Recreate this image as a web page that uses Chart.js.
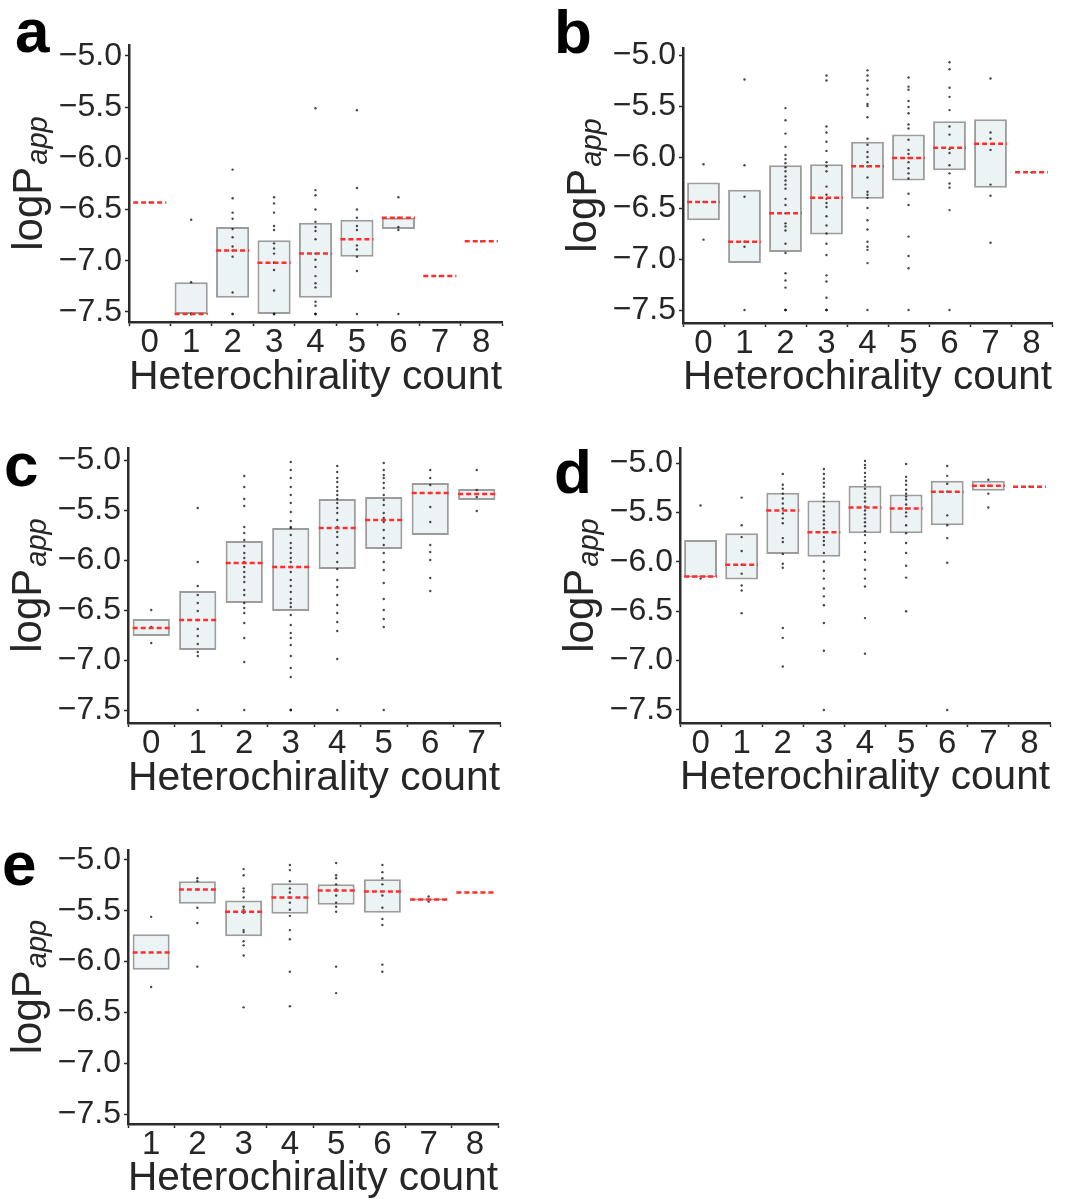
<!DOCTYPE html>
<html>
<head>
<meta charset="utf-8">
<script src="https://cdn.jsdelivr.net/npm/chart.js@4.4.1/dist/chart.umd.min.js"></script>
<style>
  body { margin: 0; background: #fff; }
  canvas { position: absolute; }
</style>
</head>
<body>
<canvas id="pa" width="536" height="405" style="left:0;top:0"></canvas>
<canvas id="pb" width="537" height="405" style="left:536px;top:0"></canvas>
<canvas id="pc" width="536" height="405" style="left:0;top:405px"></canvas>
<canvas id="pd" width="537" height="405" style="left:536px;top:405px"></canvas>
<canvas id="pe" width="536" height="393" style="left:0;top:810px"></canvas>
<script>
// shared axis ticks
const yTicks = [-7.5, -7.0, -6.5, -6.0, -5.5, -5.0];
const yTickLabels = ['\u22127.5', '\u22127.0', '\u22126.5', '\u22126.0', '\u22125.5', '\u22125.0'];

// panel a
const catsA = ['0', '1', '2', '3', '4', '5', '6', '7', '8'];
const q1A = [null, -7.52, -7.36, -7.52, -7.36, -6.96, -6.69, null, null];
const q3A = [null, -7.21, -6.67, -6.80, -6.63, -6.60, -6.58, null, null];
const medA = [-6.43, -7.52, -6.90, -7.02, -6.93, -6.79, -6.58, -7.15, -6.81];
const ptsA = [
  [-6.43],
  [-6.60, -7.21, -7.52, -7.52, -7.52],
  [-6.11, -6.39, -6.53, -6.59, -6.69, -6.77, -6.86, -6.90, -6.96, -7.31, -7.52, -7.52],
  [-6.38, -6.44, -6.53, -6.66, -6.70, -6.83, -6.88, -6.93, -7.02, -7.02, -7.09, -7.29, -7.52, -7.52, -7.52],
  [-5.51, -6.31, -6.36, -6.50, -6.62, -6.67, -6.71, -6.79, -6.93, -6.99, -7.06, -7.15, -7.22, -7.26, -7.40, -7.44, -7.52, -7.52, -7.52],
  [-5.53, -6.29, -6.50, -6.58, -6.66, -6.70, -6.85, -6.89, -6.96, -7.10, -7.52],
  [-6.38, -6.58, -6.67, -6.70, -7.52],
  [-7.15],
  [-6.81]
];

// panel b
const catsB = ['0', '1', '2', '3', '4', '5', '6', '7', '8'];
const q1B = [-6.62, -7.04, -6.93, -6.76, -6.41, -6.23, -6.13, -6.30, null];
const q3B = [-6.25, -6.32, -6.08, -6.07, -5.85, -5.78, -5.65, -5.63, null];
const medB = [-6.44, -6.83, -6.55, -6.40, -6.09, -6.01, -5.91, -5.87, -6.15];
const ptsB = [
  [-6.07, -6.44, -6.81],
  [-5.24, -6.08, -6.39, -6.83, -6.88, -7.5],
  [-5.52, -5.64, -5.77, -5.90, -5.98, -6.02, -6.06, -6.10, -6.14, -6.19, -6.23, -6.27, -6.31, -6.41, -6.47, -6.55, -6.65, -6.68, -6.72, -6.85, -6.94, -7.14, -7.21, -7.28, -7.5, -7.5, -7.5],
  [-5.20, -5.25, -5.70, -5.76, -5.85, -5.94, -6.05, -6.09, -6.14, -6.29, -6.37, -6.41, -6.45, -6.49, -6.58, -6.67, -6.75, -6.85, -6.96, -7.16, -7.22, -7.38, -7.5, -7.5, -7.5],
  [-5.15, -5.20, -5.25, -5.33, -5.39, -5.48, -5.50, -5.61, -5.82, -5.88, -5.95, -6.00, -6.05, -6.09, -6.20, -6.34, -6.37, -6.40, -6.50, -6.62, -6.71, -6.83, -6.88, -6.91, -7.04, -7.5],
  [-5.22, -5.31, -5.34, -5.45, -5.51, -5.57, -5.68, -5.72, -5.83, -5.93, -5.97, -6.01, -6.05, -6.11, -6.16, -6.21, -6.36, -6.47, -6.78, -6.97, -7.09, -7.5],
  [-5.07, -5.14, -5.32, -5.41, -5.54, -5.70, -5.78, -5.92, -5.96, -6.08, -6.16, -6.26, -6.30, -6.52, -7.5],
  [-5.23, -5.76, -5.82, -5.93, -6.27, -6.38, -6.84],
  [-6.15]
];

// panel c
const catsC = ['0', '1', '2', '3', '4', '5', '6', '7'];
const q1C = [-6.76, -6.90, -6.43, -6.51, -6.09, -5.89, -5.75, -5.40];
const q3C = [-6.59, -6.31, -5.81, -5.68, -5.39, -5.37, -5.23, -5.29];
const medC = [-6.68, -6.60, -6.03, -6.07, -5.68, -5.60, -5.33, -5.34];
const ptsC = [
  [-6.50, -6.67, -6.83],
  [-5.48, -6.02, -6.26, -6.35, -6.43, -6.51, -6.60, -6.69, -6.76, -6.84, -6.92, -6.96, -7.5],
  [-5.16, -5.27, -5.39, -5.46, -5.67, -5.73, -5.80, -5.86, -5.93, -5.98, -6.02, -6.07, -6.12, -6.17, -6.22, -6.30, -6.35, -6.43, -6.48, -6.53, -6.63, -6.78, -7.02, -7.5],
  [-5.02, -5.10, -5.18, -5.27, -5.35, -5.43, -5.52, -5.61, -5.67, -5.68, -5.75, -5.83, -5.88, -5.93, -5.98, -6.02, -6.07, -6.12, -6.20, -6.26, -6.32, -6.39, -6.43, -6.47, -6.55, -6.65, -6.73, -6.78, -6.85, -6.96, -7.08, -7.17, -7.5, -7.5, -7.5],
  [-5.06, -5.12, -5.18, -5.22, -5.27, -5.31, -5.35, -5.39, -5.43, -5.48, -5.53, -5.60, -5.67, -5.72, -5.77, -5.85, -5.93, -6.02, -6.09, -6.20, -6.27, -6.35, -6.45, -6.53, -6.62, -6.71, -6.99, -7.5],
  [-5.03, -5.10, -5.15, -5.18, -5.23, -5.28, -5.35, -5.40, -5.45, -5.53, -5.58, -5.62, -5.70, -5.78, -5.85, -5.93, -6.02, -6.10, -6.23, -6.39, -6.50, -6.59, -6.67, -7.5],
  [-5.10, -5.18, -5.25, -5.33, -5.47, -5.62, -5.85, -5.92, -6.00, -6.18, -6.31],
  [-5.10, -5.30, -5.37, -5.51]
];

// panel d
const catsD = ['0', '1', '2', '3', '4', '5', '6', '7', '8'];
const q1D = [-6.16, -6.18, -5.92, -5.95, -5.71, -5.71, -5.63, -5.28, null];
const q3D = [-5.78, -5.71, -5.30, -5.38, -5.23, -5.32, -5.18, -5.18, null];
const medD = [-6.15, -6.03, -5.48, -5.70, -5.45, -5.46, -5.29, -5.23, -5.24];
const ptsD = [
  [-5.43, -6.17],
  [-5.35, -5.63, -5.75, -5.89, -6.03, -6.12, -6.24, -6.29, -6.52],
  [-5.11, -5.22, -5.26, -5.31, -5.36, -5.41, -5.46, -5.51, -5.56, -5.61, -5.76, -5.80, -5.92, -6.02, -6.06, -6.67, -6.77, -7.06],
  [-5.06, -5.11, -5.16, -5.20, -5.24, -5.31, -5.35, -5.39, -5.44, -5.49, -5.53, -5.58, -5.62, -5.66, -5.70, -5.75, -5.79, -5.83, -5.91, -6.00, -6.09, -6.17, -6.27, -6.35, -6.44, -6.62, -6.90, -7.5],
  [-4.98, -5.02, -5.05, -5.10, -5.14, -5.18, -5.22, -5.26, -5.31, -5.35, -5.39, -5.44, -5.48, -5.52, -5.56, -5.60, -5.64, -5.69, -5.73, -5.81, -5.90, -5.98, -6.08, -6.17, -6.25, -6.57, -6.93],
  [-5.01, -5.14, -5.18, -5.22, -5.27, -5.31, -5.34, -5.37, -5.42, -5.46, -5.50, -5.54, -5.63, -5.71, -5.81, -5.91, -6.04, -6.16, -6.50],
  [-5.03, -5.13, -5.21, -5.29, -5.53, -5.63, -5.76, -6.01, -7.5],
  [-5.17, -5.23, -5.31, -5.45],
  [-5.24]
];

// panel e
const catsE = ['1', '2', '3', '4', '5', '6', '7', '8'];
const q1E = [-6.08, -5.43, -5.75, -5.53, -5.44, -5.52, -5.40, null];
const q3E = [-5.73, -5.21, -5.40, -5.23, -5.24, -5.19, -5.38, null];
const medE = [-5.91, -5.29, -5.51, -5.37, -5.30, -5.31, -5.39, -5.32];
const ptsE = [
  [-5.56, -6.25],
  [-5.18, -5.21, -5.29, -5.47, -5.62, -6.05],
  [-5.09, -5.15, -5.28, -5.31, -5.37, -5.46, -5.49, -5.52, -5.69, -5.71, -5.80, -5.84, -5.94, -6.45],
  [-5.05, -5.10, -5.21, -5.28, -5.32, -5.37, -5.42, -5.49, -5.55, -5.69, -5.78, -6.10, -6.44],
  [-5.03, -5.15, -5.18, -5.24, -5.29, -5.30, -5.35, -5.42, -5.46, -5.51, -6.05, -6.31],
  [-5.05, -5.12, -5.18, -5.24, -5.35, -5.47, -5.58, -5.64, -6.03, -6.10],
  [-5.36, -5.41],
  []
];

const FONT = "'Liberation Sans', Arial, Helvetica, sans-serif";
const TEXT = '#262626';
const AXIS = '#2b2b2b';
Chart.defaults.font.family = FONT;

// canvas box, plot area edges (page px), y range, letter position
const panels = [
  { id: 'pa', letter: 'a', cats: catsA, q1: q1A, q3: q3A, med: medA, pts: ptsA,
    box: [0, 0, 536, 405], area: [129, 45, 502, 322], yMin: -7.598, yMax: -4.893, let: [15, 52], titleBase: 392 },
  { id: 'pb', letter: 'b', cats: catsB, q1: q1B, q3: q3B, med: medB, pts: ptsB,
    box: [536, 0, 537, 405], area: [683, 48, 1052, 323], yMin: -7.627, yMax: -4.931, let: [554, 53], titleBase: 392 },
  { id: 'pc', letter: 'c', cats: catsC, q1: q1C, q3: q3C, med: medC, pts: ptsC,
    box: [0, 405, 536, 405], area: [128, 448, 500, 723], yMin: -7.63, yMax: -4.88, let: [4, 486], titleBase: 793 },
  { id: 'pd', letter: 'd', cats: catsD, q1: q1D, q3: q3D, med: medD, pts: ptsD,
    box: [536, 405, 537, 405], area: [680, 448, 1050, 723], yMin: -7.632, yMax: -4.848, let: [554, 493], titleBase: 792 },
  { id: 'pe', letter: 'e', cats: catsE, q1: q1E, q3: q3E, med: medE, pts: ptsE,
    box: [0, 810, 536, 393], area: [128, 850, 498, 1124], yMin: -7.598, yMax: -4.902, let: [2, 885], titleBase: 1193 }
];

function decor(p) {
  return {
    id: 'decor' + p.letter,
    afterDatasetsDraw(chart) {
      const { ctx, scales: { x, y } } = chart;
      const half = (x.width / p.cats.length) * 0.4;
      ctx.save();
      ctx.strokeStyle = '#ff2e2e';
      ctx.lineWidth = 2.5;
      ctx.setLineDash([5, 3]);
      p.med.forEach((v, i) => {
        if (v == null) return;
        const px = x.getPixelForValue(i);
        const py = y.getPixelForValue(v);
        ctx.beginPath();
        ctx.moveTo(px - half, py);
        ctx.lineTo(px + half, py);
        ctx.stroke();
      });
      ctx.restore();
    },
    afterDraw(chart) {
      const { ctx, chartArea } = chart;
      ctx.save();
      // y axis title: logP with italic subscript "app"
      ctx.fillStyle = TEXT;
      const f1 = '42px ' + FONT, f2 = 'italic 29px ' + FONT;
      ctx.font = f1;
      const w1 = ctx.measureText('logP').width;
      ctx.font = f2;
      const w2 = ctx.measureText('app').width;
      const total = w1 + 2 + w2;
      const cy = (chartArea.top + chartArea.bottom) / 2;
      ctx.translate(chartArea.left - 87, cy + total / 2);
      ctx.rotate(-Math.PI / 2);
      ctx.textAlign = 'left';
      ctx.textBaseline = 'alphabetic';
      ctx.font = f1;
      ctx.fillText('logP', 0, 0);
      ctx.font = f2;
      ctx.fillText('app', w1 + 2, 5);
      ctx.restore();
      // panel letter
      ctx.save();
      ctx.fillStyle = '#000';
      ctx.font = 'bold 62px ' + FONT;
      ctx.textAlign = 'left';
      ctx.textBaseline = 'alphabetic';
      ctx.fillText(p.letter, p.let[0] - p.box[0], p.let[1] - p.box[1]);
      ctx.restore();
    }
  };
}

panels.forEach(p => {
  const [bx, by, bw, bh] = p.box;
  const [L, T, R, B] = p.area;
  const boxData = p.cats.map((c, i) => (p.q1[i] == null ? null : [p.q1[i], p.q3[i]]));
  const ptData = [];
  p.pts.forEach((list, i) => list.forEach(v => ptData.push({ x: p.cats[i], y: v })));
  const titleCenter = p.titleBase - 14;

  new Chart(document.getElementById(p.id), {
    type: 'bar',
    data: {
      labels: p.cats,
      datasets: [
        {
          type: 'scatter',
          data: ptData,
          pointRadius: 1.2,
          pointBorderWidth: 0,
          pointBackgroundColor: 'rgba(25,25,25,0.8)',
          order: 0
        },
        {
          data: boxData,
          backgroundColor: '#ecf3f5',
          borderColor: '#9c9c9c',
          borderWidth: 2,
          borderSkipped: false,
          barPercentage: 0.8,
          categoryPercentage: 1,
          order: 1
        }
      ]
    },
    options: {
      responsive: false,
      animation: false,
      devicePixelRatio: 1,
      events: [],
      layout: { padding: { left: 0, top: T - by, right: bx + bw - R, bottom: 0 } },
      plugins: { legend: { display: false }, tooltip: { enabled: false } },
      scales: {
        x: {
          type: 'category',
          offset: true,
          grid: { display: true, drawOnChartArea: false, drawTicks: true, tickLength: 4, tickWidth: 1.5, tickColor: AXIS },
          border: { display: true, color: AXIS, width: 2.5 },
          ticks: { color: TEXT, font: { size: 33, lineHeight: 1 }, padding: 0, maxRotation: 0, autoSkip: false },
          title: {
            display: true, text: 'Heterochirality count', color: TEXT,
            font: { size: 41, lineHeight: 1 },
            padding: { top: 0, bottom: by + bh - titleCenter - 20.5 }
          },
          afterFit: s => { s.height = by + bh - B; }
        },
        y: {
          type: 'linear',
          min: p.yMin,
          max: p.yMax,
          afterBuildTicks: s => { s.ticks = yTicks.map(v => ({ value: v })); },
          grid: { display: true, drawOnChartArea: false, drawTicks: true, tickLength: 4, tickWidth: 1.5, tickColor: AXIS },
          border: { display: true, color: AXIS, width: 2.5 },
          ticks: { color: TEXT, font: { size: 32, lineHeight: 1 }, padding: 3, callback: (v, i) => yTickLabels[i] },
          afterFit: s => { s.width = L - bx; }
        }
      }
    },
    plugins: [decor(p)]
  });
});
</script>
</body>
</html>
